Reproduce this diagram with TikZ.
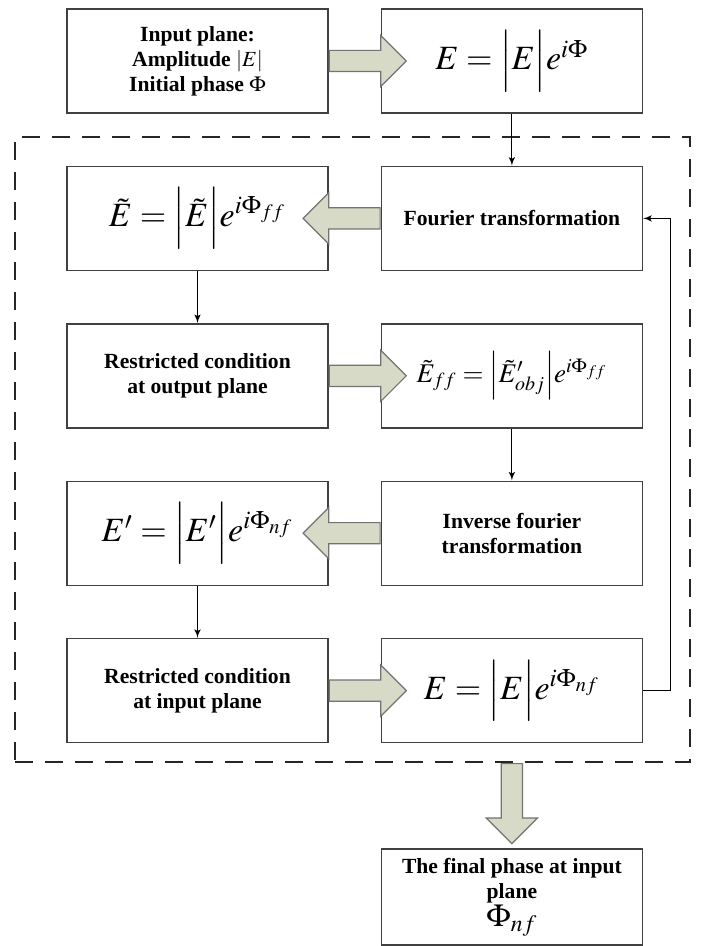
\documentclass[tikz,border=0pt]{standalone}
\usepackage{mathptmx}
\usepackage[no-math]{fontspec}
\setmainfont{Liberation Serif}
\usetikzlibrary{positioning,arrows,shapes,fit}
\definecolor{arrowfill}{RGB}{215,218,198}

\begin{document}
\begin{tikzpicture}
            [x=0.5pt, y=-0.5pt, >=latex',
            box/.style={rectangle, draw=black!75, line width=0.7pt,
            minimum width=130.5pt, minimum height=52pt, inner sep=2pt, align=center,
            font=\fontsize{10.8}{12.5}\selectfont\bfseries},
            eqn/.style={box, font=\fontsize{17}{20}\selectfont},
            fatarrow/.style={single arrow, draw=black!55, fill=arrowfill, line width=0.6pt,
            minimum height=38.5pt, minimum width=25pt, single arrow head extend=7.5pt,
            inner xsep=0pt, inner ysep=5pt},
            link/.style={draw=black, line width=0.5pt, ->},
            frame/.style={draw=black!85, line width=1pt, dash pattern=on 9pt off 6pt, inner sep=0pt}]
            \useasboundingbox (0,0) rectangle (702,946);
            \node[box] (input) at (197.5,61) {Input plane:\\ Amplitude $|E|$\\ Initial phase $\Phi$};
            \node[eqn, right=26pt of input] (field) {$E=\Bigl|E\Bigr|e^{i\Phi}$};
            \node[box, below=26pt of field] (fourier) {Fourier transformation};
            \node[eqn, left=26pt of fourier] (spec) {$\tilde{E}=\Bigl|\tilde{E}\Bigr|e^{i\Phi_{ff}}$};
            \node[box, below=26pt of spec] (outcon) {Restricted condition\\ at output plane};
            \node[eqn, right=26pt of outcon, font=\fontsize{13.5}{16}\selectfont] (specnew)
                {$\tilde{E}_{ff}=\Bigl|\tilde{E}'_{obj}\Bigr|e^{i\Phi_{ff}}$};
            \node[box, below=26pt of specnew] (inverse) {Inverse fourier\\ transformation};
            \node[eqn, left=26pt of inverse] (fieldnew) {$E'=\Bigl|E'\Bigr|e^{i\Phi_{nf}}$};
            \node[box, below=26pt of fieldnew] (incon) {Restricted condition\\ at input plane};
            \node[eqn, right=26pt of incon] (fieldnf) {$E=\Bigl|E\Bigr|e^{i\Phi_{nf}}$};
            \node[box, below=52.5pt of fieldnf, minimum height=48pt] (final)
                {The final phase at input\\ plane\\ {\fontsize{16}{16}\selectfont$\Phi_{nf}$}};
            \coordinate (nw) at (15,137);
            \coordinate (se) at (690,762);
            \node[frame, fit=(nw)(se)] (loop) {};
            \node[fatarrow, anchor=tail] (a1) at (input.east) {};
            \node[fatarrow, rotate=180, anchor=tail] (a2) at (fourier.west) {};
            \node[fatarrow, anchor=tail] (a3) at (outcon.east) {};
            \node[fatarrow, rotate=180, anchor=tail] (a4) at (inverse.west) {};
            \node[fatarrow, anchor=tail] (a5) at (incon.east) {};
            \node[fatarrow, rotate=-90, anchor=tail, minimum height=40pt] (a6) at (loop.south -| final.north) {};
            \draw[link] (field) -- (fourier);
            \draw[link] (spec) -- (outcon);
            \draw[link] (specnew) -- (inverse);
            \draw[link] (fieldnew) -- (incon);
            \draw[link] (fieldnf.east) -- ++(13.5pt,0) |- (fourier.east);
\end{tikzpicture}
\end{document}
